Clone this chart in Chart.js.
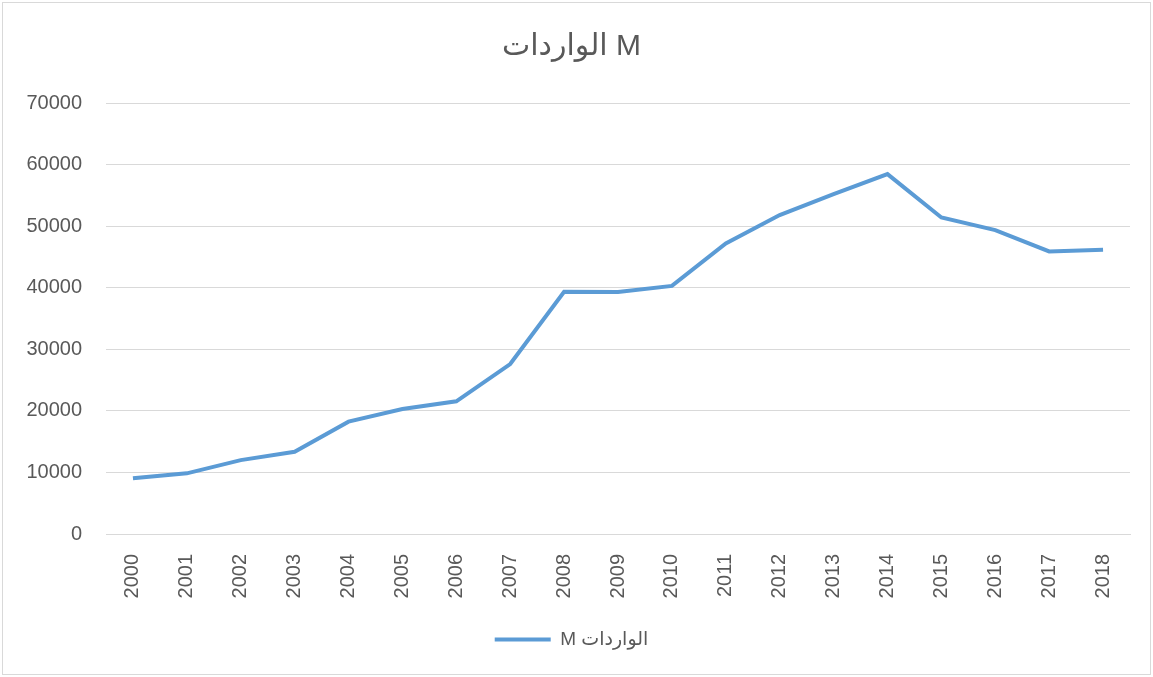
<!DOCTYPE html>
<html>
<head>
<meta charset="utf-8">
<script src="https://cdn.jsdelivr.net/npm/chart.js@4.4.1/dist/chart.umd.min.js"></script>
<style>
  html, body { margin: 0; padding: 0; background: #fff; }
  #wrap { position: absolute; left: 2px; top: 2px; width: 1147px; height: 671px; border: 1px solid #d9d9d9; }
</style>
</head>
<body>
<div id="wrap"><canvas id="importsChart"></canvas></div>
<script>
// سنوات ومبالغ الواردات
var years = ['2000','2001','2002','2003','2004','2005','2006','2007','2008','2009',
             '2010','2011','2012','2013','2014','2015','2016','2017','2018'];
var imports = [9050, 9850, 12000, 13350, 18250, 20300, 21550, 27600, 39350, 39300,
               40300, 47200, 51800, 55200, 58450, 51400, 49350, 45900, 46150];
var seriesName = 'الواردات M';
var yTicks = [0, 10000, 20000, 30000, 40000, 50000, 60000, 70000];

var grey = '#595959';
var fontFamily = "'Liberation Sans', Arial, 'DejaVu Sans', sans-serif";

var ctx = document.getElementById('importsChart').getContext('2d');
var importsChart = new Chart(ctx, {
    type: 'line',
    data: {
        labels: years,
        datasets: [{
            label: seriesName,
            data: imports,
            borderColor: '#5b9bd5',
            backgroundColor: '#5b9bd5',
            borderWidth: 4,
            pointRadius: 0,
            tension: 0
        }]
    },
    options: {
        responsive: true,
        maintainAspectRatio: false,
        animation: false,
        layout: { padding: { left: 10, right: 20, top: 14, bottom: 15 } },
        plugins: {
            title: {
                display: true,
                text: seriesName,
                color: grey,
                font: { family: fontFamily, size: 30, weight: 'normal' },
                padding: { top: 12, bottom: 38 }
            },
            legend: {
                position: 'bottom',
                labels: {
                    color: grey,
                    font: { family: fontFamily, size: 19 },
                    usePointStyle: true,
                    pointStyle: 'line',
                    pointStyleWidth: 56,
                    padding: 10,
                    // النص يُعرض من اليمين إلى اليسار كما في Excel
                    generateLabels: function (chart) {
                        var items = Chart.defaults.plugins.legend.labels.generateLabels(chart);
                        items.forEach(function (it) { it.text = '\u202B' + it.text + '\u202C'; });
                        return items;
                    }
                }
            },
            tooltip: { enabled: false }
        },
        scales: {
            x: {
                offset: true,
                grid: { display: false },
                border: { color: '#d9d9d9' },
                afterFit: function (axis) { axis.height = 86; },
                ticks: {
                    color: grey,
                    font: { family: fontFamily, size: 20 },
                    minRotation: 90,
                    maxRotation: 90,
                    padding: 12
                }
            },
            y: {
                min: 0,
                max: 70000,
                afterBuildTicks: function (axis) {
                    axis.ticks = yTicks.map(function (v) { return { value: v }; });
                },
                afterFit: function (axis) { axis.width = 93; },
                grid: { color: '#d9d9d9', drawTicks: false },
                border: { display: false },
                ticks: {
                    color: grey,
                    font: { family: fontFamily, size: 20 },
                    padding: 24,
                    callback: function (v) { return String(v); }
                }
            }
        }
    }
});
</script>
</body>
</html>
